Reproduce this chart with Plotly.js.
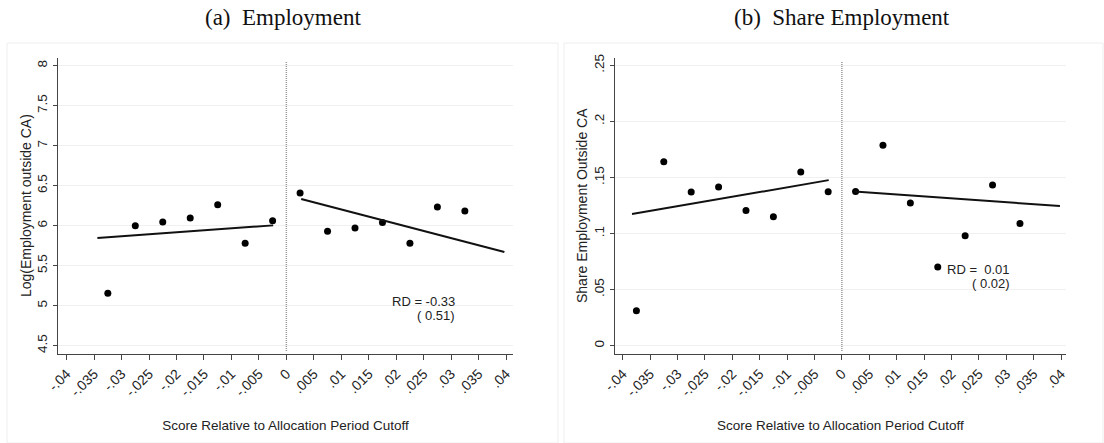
<!DOCTYPE html>
<html>
<head>
<meta charset="utf-8">
<script src="https://cdn.plot.ly/plotly-3.0.1.min.js"></script>
<style>html,body{margin:0;padding:0;background:#fff}#chart{width:1104px;height:443px}</style>
</head>
<body>
<div id="chart"></div>
<script>
// ---- Data ----
const xTickVals = [-0.04,-0.035,-0.03,-0.025,-0.02,-0.015,-0.01,-0.005,0,0.005,0.01,0.015,0.02,0.025,0.03,0.035,0.04];
const xTickText = ["-.04","-.035","-.03","-.025","-.02","-.015","-.01","-.005","0",".005",".01",".015",".02",".025",".03",".035",".04"];

// Panel (a) Employment
const empLeftX  = [-0.0325,-0.0275,-0.0225,-0.0175,-0.0125,-0.0075,-0.0025];
const empLeftY  = [5.154,6.0,6.046,6.096,6.263,5.779,6.063];
const empRightX = [0.0025,0.0075,0.0125,0.0175,0.0225,0.0275,0.0325];
const empRightY = [6.408,5.929,5.971,6.04,5.78,6.233,6.183];
const empFitLeftX  = [-0.0344,-0.0024];
const empFitLeftY  = [5.846,6.004];
const empFitRightX = [0.0027,0.0397];
const empFitRightY = [6.333,5.671];
const empYTicks = [4.5,5,5.5,6,6.5,7,7.5,8];
const empYTickText = ["4.5","5","5.5","6","6.5","7","7.5","8"];
const empRD = ["RD = -0.33","( 0.51)"];

// Panel (b) Share Employment
const shLeftX  = [-0.0375,-0.0325,-0.0275,-0.0225,-0.0175,-0.0125,-0.0075,-0.0025];
const shLeftY  = [0.0312,0.1641,0.137,0.1415,0.1207,0.115,0.1549,0.1373];
const shRightX = [0.0025,0.0075,0.0125,0.0175,0.0225,0.0275,0.0325];
const shRightY = [0.1376,0.1787,0.1272,0.0702,0.0981,0.1433,0.1091];
const shFitLeftX  = [-0.0383,-0.0024];
const shFitLeftY  = [0.1174,0.1477];
const shFitRightX = [0.0023,0.0398];
const shFitRightY = [0.1376,0.1246];
const shYTicks = [0,0.05,0.1,0.15,0.2,0.25];
const shYTickText = ["0",".05",".1",".15",".2",".25"];
const shRD = ["RD =  0.01","( 0.02)"];

const cutoff = 0;
const panelTitles = ["(a)  Employment","(b)  Share Employment"];
const xTitle = "Score Relative to Allocation Period Cutoff";
const yTitles = ["Log(Employment outside CA)","Share Employment Outside CA"];

// ---- Traces ----
const mk = {color:'#000', size:7};
const ln = {color:'#111', width:2};
const traces = [
  {x:empLeftX, y:empLeftY, mode:'markers', marker:mk, xaxis:'x', yaxis:'y'},
  {x:empRightX, y:empRightY, mode:'markers', marker:mk, xaxis:'x', yaxis:'y'},
  {x:empFitLeftX, y:empFitLeftY, mode:'lines', line:ln, xaxis:'x', yaxis:'y'},
  {x:empFitRightX, y:empFitRightY, mode:'lines', line:ln, xaxis:'x', yaxis:'y'},
  {x:shLeftX, y:shLeftY, mode:'markers', marker:mk, xaxis:'x2', yaxis:'y2'},
  {x:shRightX, y:shRightY, mode:'markers', marker:mk, xaxis:'x2', yaxis:'y2'},
  {x:shFitLeftX, y:shFitLeftY, mode:'lines', line:ln, xaxis:'x2', yaxis:'y2'},
  {x:shFitRightX, y:shFitRightY, mode:'lines', line:ln, xaxis:'x2', yaxis:'y2'}
];

const sans = 'Liberation Sans, Arial, sans-serif';
const tickFont = {family:sans, size:14, color:'#222'};
const titleFont = {family:sans, size:13.5, color:'#222'};

function xax(domain, range){
  return {domain:domain, range:range, tickmode:'array', tickvals:xTickVals, ticktext:xTickText,
    tickangle:-45, tickfont:tickFont, ticks:'outside', ticklen:5, tickcolor:'#444',
    showline:true, linecolor:'#444', linewidth:1.2, showgrid:false, zeroline:false,
    title:{text:xTitle, font:titleFont, standoff:22}, fixedrange:true};
}
function yax(range, vals, text, anchor){
  return {domain:[0.2009,0.869], range:range, tickmode:'array', tickvals:vals, ticktext:text,
    tickangle:-90, tickfont:{family:sans, size:13.5, color:'#222'}, ticks:'outside', ticklen:4, tickcolor:'#444',
    showline:true, linecolor:'#444', linewidth:1.2, showgrid:true, gridcolor:'#f0f0f0', gridwidth:1,
    zeroline:false, anchor:anchor, fixedrange:true};
}

const yMid = (443-206)/443;
const layout = {
  width:1104, height:443, margin:{l:0,r:0,t:0,b:0},
  paper_bgcolor:'#fff', plot_bgcolor:'#fff', showlegend:false,
  xaxis: Object.assign(xax([0.0525,0.4647],[-0.04158,0.04127]), {anchor:'y'}),
  yaxis: yax([4.396,8.096], empYTicks, empYTickText, 'x'),
  xaxis2: Object.assign(xax([0.5568,0.9656],[-0.04146,0.04091]), {anchor:'y2'}),
  yaxis2: yax([-0.0074,0.2566], shYTicks, shYTickText, 'x2'),
  shapes:[
    {type:'rect', xref:'paper', yref:'paper', x0:7/1104, x1:558/1104, y0:0, y1:(443-43)/443, line:{color:'#eeeeee', width:1}},
    {type:'rect', xref:'paper', yref:'paper', x0:564/1104, x1:1103/1104, y0:0, y1:(443-43)/443, line:{color:'#eeeeee', width:1}},
    {type:'line', xref:'x', yref:'y domain', x0:cutoff, x1:cutoff, y0:0.01, y1:0.99, line:{color:'#9a9a9a', width:1.5, dash:'1px,1px'}},
    {type:'line', xref:'x2', yref:'y2 domain', x0:cutoff, x1:cutoff, y0:0.01, y1:0.99, line:{color:'#9a9a9a', width:1.5, dash:'1px,1px'}}
  ],
  annotations:[
    {text:panelTitles[0], xref:'paper', yref:'paper', x:283/1104, y:(443-18)/443, showarrow:false, xanchor:'center', yanchor:'middle', font:{family:'Liberation Serif, Times New Roman, serif', size:23, color:'#111'}},
    {text:panelTitles[1], xref:'paper', yref:'paper', x:(552+290)/1104, y:(443-18)/443, showarrow:false, xanchor:'center', yanchor:'middle', font:{family:'Liberation Serif, Times New Roman, serif', size:23, color:'#111'}},
    {text:yTitles[0], xref:'paper', yref:'paper', x:26/1104, y:yMid, textangle:-90, showarrow:false, xanchor:'center', yanchor:'middle', font:{family:sans, size:14, color:'#222'}},
    {text:yTitles[1], xref:'paper', yref:'paper', x:582/1104, y:yMid, textangle:-90, showarrow:false, xanchor:'center', yanchor:'middle', font:{family:sans, size:14, color:'#222'}},
    {text:empRD[0], xref:'x', yref:'y', x:0.0311, y:5.05, showarrow:false, xanchor:'right', yanchor:'middle', font:{family:sans, size:13, color:'#222'}},
    {text:empRD[1], xref:'x', yref:'y', x:0.0311, y:4.875, showarrow:false, xanchor:'right', yanchor:'middle', font:{family:sans, size:13, color:'#222'}},
    {text:shRD[0], xref:'x2', yref:'y2', x:0.031, y:0.0684, showarrow:false, xanchor:'right', yanchor:'middle', font:{family:sans, size:13, color:'#222'}},
    {text:shRD[1], xref:'x2', yref:'y2', x:0.031, y:0.0553, showarrow:false, xanchor:'right', yanchor:'middle', font:{family:sans, size:13, color:'#222'}}
  ]
};

Plotly.newPlot('chart', traces, layout, {displayModeBar:false, staticPlot:true});
</script>
</body>
</html>
